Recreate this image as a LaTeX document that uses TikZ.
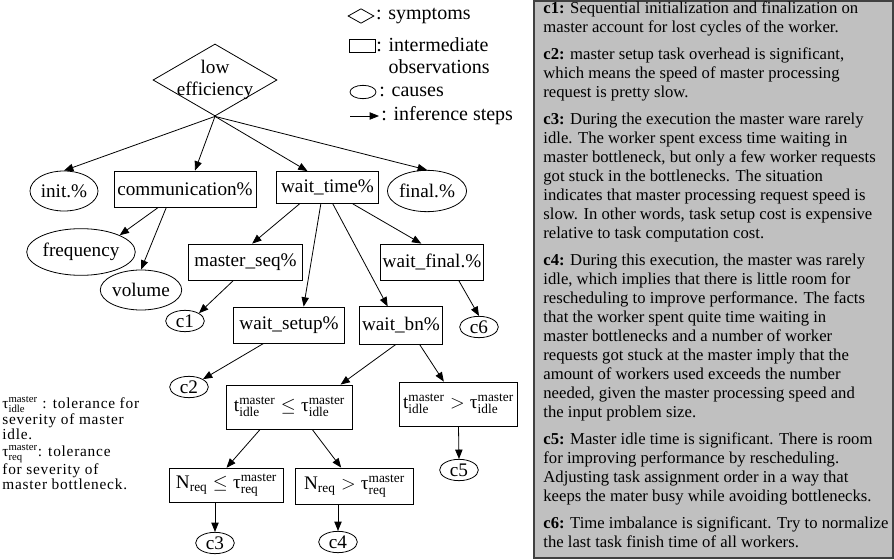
\documentclass[tikz,border=0pt]{standalone}
\usepackage{amsmath}
\usepackage{fontspec}
\setmainfont{Liberation Serif}
\newfontfamily\notefont[LetterSpace=5]{Liberation Serif}
\usetikzlibrary{shapes.geometric,arrows.meta,positioning}
\definecolor{panelgray}{HTML}{C0C0C0}
\definecolor{framegray}{HTML}{404040}

\newcommand{\graphfont}{\fontsize{14.4}{16}\selectfont}
\newcommand{\tidle}{\mathrm{t}^{\mathrm{master}}_{\mathrm{idle}}}
\newcommand{\tauidle}{\text{τ}^{\mathrm{master}}_{\mathrm{idle}}}
\newcommand{\taureq}{\text{τ}^{\mathrm{master}}_{\mathrm{req}}}
\newcommand{\Nreq}{\mathrm{N}_{\mathrm{req}}}

\begin{document}
\begin{tikzpicture}[
    x=0.75pt, y=-0.75pt, line width=0.6pt,
    symptom/.style={draw, diamond, inner sep=0pt, minimum width=93pt, minimum height=54pt},
    obs/.style={draw, rectangle, inner sep=1pt, font=\graphfont},
    cause/.style={draw, ellipse, inner sep=0pt, font=\graphfont},
    cnode/.style={cause, minimum width=29pt, minimum height=16pt},
    infer/.style={-{Triangle[length=7pt,width=5.5pt]}},
    legtext/.style={font=\fontsize{15}{16.5}\selectfont, align=left, inner sep=0pt},
    note/.style={font=\fontsize{11.5}{11}\notefont, align=left, inner sep=0pt},
    panel/.style={draw=framegray, line width=1.2pt, fill=panelgray, inner sep=0pt},
    ctext/.style={font=\fontsize{12.5}{14.25}\selectfont, align=left, inner sep=0pt}
]
\useasboundingbox (0,0) rectangle (894,560);

% --- symptom ---
\node[symptom, label={[font=\graphfont, align=center]center:low\\efficiency}] (low) at (215,80) {};

% --- first level ---
\node[cause, minimum width=51pt, minimum height=30pt] (init) at (64,191) {init.\%};
\node[obs, minimum width=106.5pt, minimum height=27pt] (comm) at (185,189) {communication\%};
\node[obs, minimum width=77pt, minimum height=24pt] (wtime) at (327.5,187.5) {wait\_time\%};
\node[cause, minimum width=53pt, minimum height=31pt] (final) at (427,191) {final.\%};

% --- communication ---
\node[cause, minimum width=69pt, minimum height=35pt] (freq) at (81,252) {frequency};
\node[cause, minimum width=52pt, minimum height=30pt] (vol) at (141,290) {volume};

% --- wait time ---
\node[obs, minimum width=86pt, minimum height=27pt] (mseq) at (245.5,262) {master\_seq\%};
\node[obs, minimum width=77pt, minimum height=27pt] (wfinal) at (432,262) {wait\_final.\%};
\node[obs, minimum width=83pt, minimum height=27pt] (wsetup) at (289,325) {wait\_setup\%};
\node[obs, minimum width=62pt, minimum height=28pt] (wbn) at (401,325.5) {wait\_bn\%};

% --- bottleneck tests ---
\node[obs, minimum width=94pt, minimum height=33pt] (tle) at (289.5,407) {$\tidle \leq \tauidle$};
\node[obs, minimum width=89pt, minimum height=33pt] (tgt) at (458.5,404) {$\tidle > \tauidle$};
\node[obs, minimum width=85pt, minimum height=26pt] (nle) at (226.5,485.5) {$\Nreq \leq \taureq$};
\node[obs, minimum width=88pt, minimum height=27pt] (ngt) at (354.5,486) {$\Nreq > \taureq$};

% --- causes ---
\node[cnode] (c1) at (185,321) {c1};
\node[cnode] (c2) at (189,387) {c2};
\node[cnode] (c3) at (215,543) {c3};
\node[cnode] (c4) at (338,542) {c4};
\node[cnode] (c5) at (459,470) {c5};
\node[cnode] (c6) at (479,327) {c6};

% --- inference steps ---
\draw[infer] (low.south) -- (init.north);
\draw[infer] (low.south) -- ([xshift=7.5pt]comm.north);
\draw[infer] (low.south) -- ([xshift=-15pt]wtime.north);
\draw[infer] (low.south) -- (final.north);
\draw[infer] ([xshift=-20pt]comm.south) -- (freq.north east);
\draw[infer] ([xshift=-14pt]comm.south) -- (vol.north);
\draw[infer] ([xshift=-21pt]wtime.south) -- ([xshift=5pt]mseq.north);
\draw[infer] ([xshift=-5pt]wtime.south) -- ([xshift=11pt]wsetup.north);
\draw[infer] ([xshift=4pt]wtime.south) -- ([xshift=-10pt]wbn.north);
\draw[infer] ([xshift=19pt]wtime.south) -- ([xshift=-8pt]wfinal.north);
\draw[infer] ([xshift=-9pt]mseq.south) -- (c1.north east);
\draw[infer] ([xshift=20pt]wfinal.south) -- (c6.north);
\draw[infer] ([xshift=-19pt]wsetup.south) -- (c2.north east);
\draw[infer] ([xshift=-4pt]wbn.south) -- ([xshift=-9pt]tle.north east);
\draw[infer] ([xshift=14pt]wbn.south) -- ([xshift=-11pt]tgt.north);
\draw[infer] (tgt.south) -- (c5.north);
\draw[infer] ([xshift=-22pt]tle.south) -- (nle.north);
\draw[infer] ([xshift=17pt]tle.south) -- ([xshift=-10pt]ngt.north);
\draw[infer] (c3.north |- nle.south) -- (c3.north);
\draw[infer] (c4.north |- ngt.south) -- (c4.north);

% --- legend ---
\node[symptom, minimum width=19.5pt, minimum height=11pt] (legsym) at (361,16) {};
\node[legtext, right=1pt of legsym] {: symptoms};
\node[draw, rectangle, minimum width=19.5pt, minimum height=9.75pt, inner sep=0pt] (legobs) at (362,46) {};
\node[legtext, anchor=north west] at (376,37) {: intermediate\\\phantom{: }observations};
\node[draw, ellipse, minimum width=19.5pt, minimum height=10pt, inner sep=0pt] (legcause) at (363,92) {};
\node[legtext, right=2pt of legcause] {: causes};
\coordinate (legA) at (350,116);
\coordinate (legB) at (379,116);
\draw[infer] (legA) -- (legB);
\node[legtext, right=1.5pt of legB] {: inference steps};

% --- tolerances ---
\node[note, anchor=west] (noteidle) at (2,418) {$\tauidle$ : tolerance for\\severity of master\\idle.};
\node[note, anchor=west] (notereq) at (2,467) {$\taureq$: tolerance\\for severity of\\master bottleneck.};

% --- causes explained ---
\node[panel, anchor=north west, minimum width=269.25pt, minimum height=417.75pt] (panel) at (533,0) {};
\node[ctext, anchor=north west] (ctext) at ([xshift=7.5pt,yshift=-1pt]panel.north west) {%
\textbf{c1:} Sequential initialization and finalization on\\
master account for lost cycles of the worker.\\[6pt]
\textbf{c2:} master setup task overhead is significant,\\
which means the speed of master processing\\
request is pretty slow.\\[6pt]
\textbf{c3:} During the execution the master ware rarely\\
idle. The worker spent excess time waiting in\\
master bottleneck, but only a few worker requests\\
got stuck in the bottlenecks. The situation\\
indicates that master processing request speed is\\
slow. In other words, task setup cost is expensive\\
relative to task computation cost.\\[6pt]
\textbf{c4:} During this execution, the master was rarely\\
idle, which implies that there is little room for\\
rescheduling to improve performance. The facts\\
that the worker spent quite time waiting in\\
master bottlenecks and a number of worker\\
requests got stuck at the master imply that the\\
amount of workers used exceeds the number\\
needed, given the master processing speed and\\
the input problem size.\\[6pt]
\textbf{c5:} Master idle time is significant. There is room\\
for improving performance by rescheduling.\\
Adjusting task assignment order in a way that\\
keeps the mater busy while avoiding bottlenecks.\\[6pt]
\textbf{c6:} Time imbalance is significant. Try to normalize\\
the last task finish time of all workers.};

\end{tikzpicture}
\end{document}
